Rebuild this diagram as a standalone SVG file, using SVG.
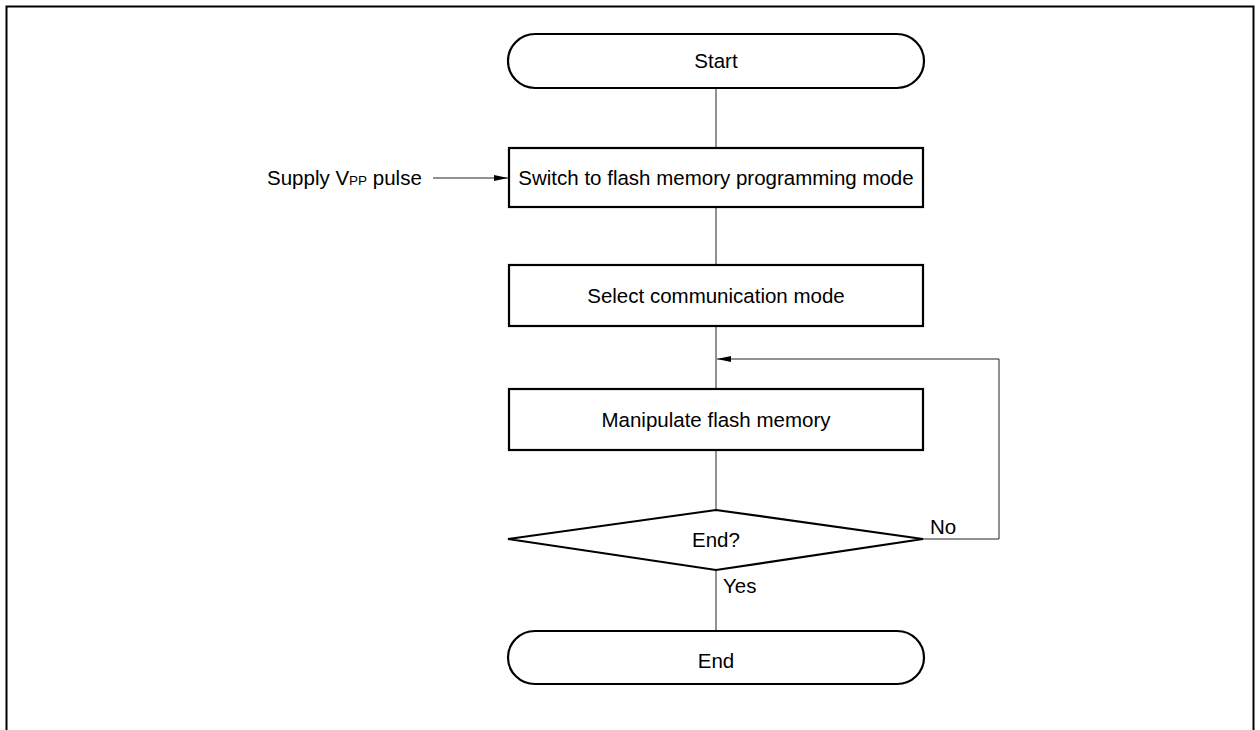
<svg xmlns="http://www.w3.org/2000/svg" width="1260" height="730" viewBox="0 0 1260 730">
<style>
.n{fill:#fff;stroke:#000;stroke-width:2.2}
.c{fill:none;stroke:#222;stroke-width:1}
text{font-family:"Liberation Sans",Arial,sans-serif;font-size:20.5px;fill:#000}
.m{text-anchor:middle}
</style>
<defs>
<marker id="ah" markerWidth="14" markerHeight="8" refX="14" refY="4" orient="auto" markerUnits="userSpaceOnUse">
<path d="M0,1 L14,4 L0,7 Z" fill="#000"/>
</marker>
</defs>
<rect width="1260" height="730" fill="#fff"/>
<path d="M6.5,731 V6.5 H1253.5 V731" fill="none" stroke="#000" stroke-width="2"/>
<g id="connectors">
<line class="c" x1="716" y1="88" x2="716" y2="148"/>
<line class="c" x1="716" y1="207" x2="716" y2="265"/>
<line class="c" x1="716" y1="326" x2="716" y2="389"/>
<line class="c" x1="716" y1="450" x2="716" y2="510"/>
<line class="c" x1="716" y1="570" x2="716" y2="631"/>
<polyline class="c" points="923,539 999,539 999,359 717,359" marker-end="url(#ah)"/>
<line class="c" x1="433" y1="178" x2="508" y2="178" marker-end="url(#ah)"/>
</g>
<g id="start">
<rect class="n" x="508" y="34" width="416" height="54" rx="27" ry="27"/>
<text class="m" x="716" y="68">Start</text>
</g>
<g id="supply">
<text x="267" y="185">Supply V<tspan font-size="13.5">PP</tspan> pulse</text>
</g>
<g id="switch">
<rect class="n" x="509" y="148" width="414" height="59"/>
<text class="m" x="716" y="185">Switch to flash memory programming mode</text>
</g>
<g id="select">
<rect class="n" x="509" y="265" width="414" height="61"/>
<text class="m" x="716" y="303">Select communication mode</text>
</g>
<g id="manipulate">
<rect class="n" x="509" y="389" width="414" height="61"/>
<text class="m" x="716" y="427">Manipulate flash memory</text>
</g>
<g id="decision">
<polygon class="n" points="716,510 923,539 716,570 508,539"/>
<text class="m" x="716" y="547">End?</text>
<text x="930" y="534">No</text>
<text x="723" y="593">Yes</text>
</g>
<g id="end">
<rect class="n" x="508" y="631" width="416" height="53" rx="27" ry="26.5"/>
<text class="m" x="716" y="668">End</text>
</g>
</svg>
